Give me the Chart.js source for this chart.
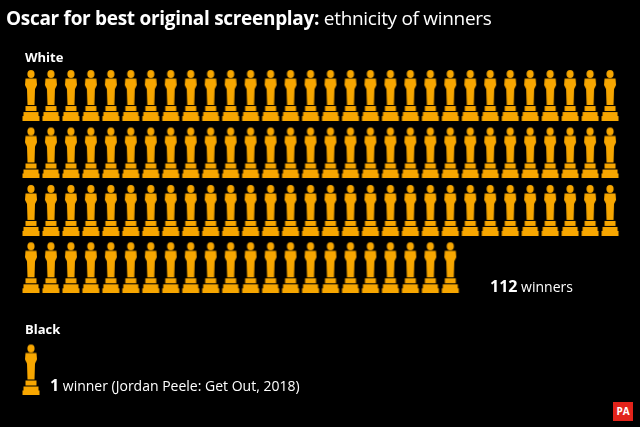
<!DOCTYPE html>
<html><head><meta charset="utf-8">
<script src="https://cdn.jsdelivr.net/npm/chart.js@4/dist/chart.umd.min.js"></script>
<style>
body{margin:0;background:#000;width:640px;height:427px;overflow:hidden;font-family:"Open Sans",sans-serif;color:#fff}
#wrap{position:absolute;left:0;top:0;width:640px;height:427px}
.t{position:absolute;white-space:nowrap}
</style></head><body>
<div id="wrap"><canvas id="c" width="640" height="427"></canvas></div>
<div class="t" style="left:6px;top:5px;font-size:19px;letter-spacing:-0.3px"><b>Oscar for best original screenplay:</b> ethnicity of winners</div>
<div class="t" style="left:25px;top:48px;font-size:13px;font-weight:bold">White</div>
<div class="t" style="left:490px;top:275px;font-size:14px"><b style="font-size:16px">112</b> winners</div>
<div class="t" style="left:25px;top:320px;font-size:13px;font-weight:bold">Black</div>
<div class="t" style="left:50px;top:374px;font-size:14px"><b style="font-size:16px">1</b> winner (Jordan Peele: Get Out, 2018)</div>
<div class="t" style="left:613px;top:402px;width:20px;height:19px;background:#e2231a;font-size:10px;font-weight:bold;text-align:center;line-height:19px">PA</div>
<script>
const categories=["White","Black"];
const winners=[112,1];
const perRow=30;
const gold="#f7a600";
function icon(){
  const c=document.createElement("canvas");c.width=20;c.height=52;
  const g=c.getContext("2d");g.fillStyle=gold;
  g.beginPath();g.ellipse(10,5,3.6,4,0,0,Math.PI*2);g.fill();
  g.beginPath();g.moveTo(4.5,9.5);g.lineTo(15.5,9.5);g.lineTo(16,16);g.lineTo(14,20);g.lineTo(13.5,36);g.lineTo(6.5,36);g.lineTo(6,20);g.lineTo(4,16);g.closePath();g.fill();
  g.fillRect(4.5,37,11,5);
  g.fillRect(2.5,43,15,4);
  g.fillRect(1.5,47,17,5);
  return c;
}
const img=icon();
const whitePts=[],blackPts=[];
for(let i=0;i<winners[0];i++)whitePts.push({x:i%perRow,y:Math.floor(i/perRow)});
for(let i=0;i<winners[1];i++)blackPts.push({x:i,y:4.78});
new Chart(document.getElementById("c"),{
  type:"scatter",
  data:{datasets:[
    {label:categories[0],data:whitePts,pointStyle:img,pointRadius:10},
    {label:categories[1],data:blackPts,pointStyle:img,pointRadius:10}
  ]},
  options:{responsive:false,animation:false,layout:{padding:0},
    plugins:{legend:{display:false},tooltip:{enabled:false}},
    scales:{x:{display:false,min:-1,max:29.95},
            y:{display:false,reverse:true,min:-1.464,max:5.59}}}
});
</script></body></html>
